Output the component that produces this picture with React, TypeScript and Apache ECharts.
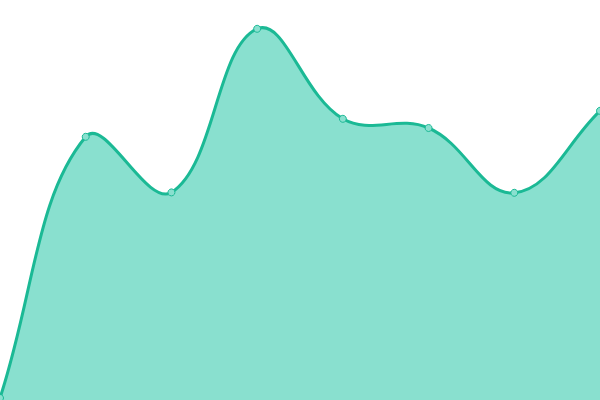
import { useEffect, useRef } from "react";
import * as echarts from "echarts";

const categories = ["1", "2", "3", "4", "5", "6", "7", "8"];
const values = [0.5, 65.8, 51.9, 92.8, 70.3, 68, 51.8, 72.3];

const lineColor = "#1bb995";
const fillColor = "#89e0cf";
const tension = 0.4;

// cardinal spline control points, same idea as chart.js' splineCurve
function controlPoints(pts: number[][], top: number, bottom: number) {
  const clampY = (y: number) => Math.max(top, Math.min(bottom, y));
  return pts.map((p, i) => {
    const prev = pts[i - 1] || p;
    const next = pts[i + 1] || p;
    const d01 = Math.hypot(p[0] - prev[0], p[1] - prev[1]);
    const d12 = Math.hypot(next[0] - p[0], next[1] - p[1]);
    const sum = d01 + d12 || 1;
    const fa = (tension * d01) / sum;
    const fb = (tension * d12) / sum;
    const dx = next[0] - prev[0];
    const dy = next[1] - prev[1];
    return {
      before: [p[0] - fa * dx, clampY(p[1] - fa * dy)],
      after: [p[0] + fb * dx, clampY(p[1] + fb * dy)],
    };
  });
}

export default function App() {
  const chartRef = useRef(null);

  useEffect(() => {
    const chart = echarts.init(chartRef.current, null, { renderer: "svg" });

    const renderCurve = (params: any, api: any) => {
      if (params.dataIndex !== 0) return null;
      const pts = values.map((v, i) => api.coord([i, v]));
      const top = params.coordSys.y;
      const bottom = api.coord([0, 0])[1];
      const cps = controlPoints(pts, top, bottom);
      let d = `M${pts[0][0]},${pts[0][1]}`;
      for (let i = 1; i < pts.length; i++) {
        const a = cps[i - 1].after;
        const b = cps[i].before;
        d += ` C${a[0]},${a[1]} ${b[0]},${b[1]} ${pts[i][0]},${pts[i][1]}`;
      }
      const last = pts[pts.length - 1];
      const area = `${d} L${last[0]},${bottom} L${pts[0][0]},${bottom} Z`;
      return {
        type: "group",
        children: [
          {
            type: "path",
            shape: { pathData: area },
            style: { fill: fillColor, stroke: "none" },
          },
          {
            type: "path",
            shape: { pathData: d },
            style: { fill: "none", stroke: lineColor, lineWidth: 3 },
          },
        ],
      };
    };

    chart.setOption({
      animation: false,
      grid: { left: 0, right: 0, top: 0, bottom: 0 },
      xAxis: {
        type: "category",
        data: categories,
        boundaryGap: false,
        show: false,
      },
      yAxis: {
        type: "value",
        min: 0,
        max: 100,
        show: false,
      },
      series: [
        {
          type: "custom",
          data: values.map((v, i) => [i, v]),
          encode: { x: 0, y: 1 },
          renderItem: renderCurve,
          z: 1,
        },
        {
          type: "line",
          data: values,
          symbol: "circle",
          symbolSize: 7,
          lineStyle: { width: 0, opacity: 0 },
          itemStyle: { color: fillColor, borderColor: lineColor, borderWidth: 1 },
          z: 2,
        },
      ],
    });

    return () => {
      chart.dispose();
    };
  }, []);

  return (
    <div
      ref={chartRef}
      style={{ position: "fixed", left: 0, top: 0, width: "600px", height: "400px" }}
    />
  );
}
